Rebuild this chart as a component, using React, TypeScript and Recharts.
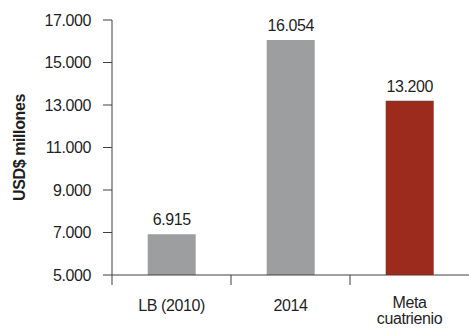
import React from "react";
import { Bar, BarChart, Cell, LabelList, XAxis, YAxis } from "recharts";

const categories = ["LB (2010)", "2014", "Meta\ncuatrienio"];
const values = [6915, 16054, 13200];
const barColors = ["#9d9ea0", "#9d9ea0", "#9c2b1d"];
const yTicks = [5000, 7000, 9000, 11000, 13000, 15000, 17000];

const FONT = "'Liberation Sans', Arial, sans-serif";
const TEXT = "#1f1f1f";
const AXIS = "#404040";
const FS = 16;
const LS = -0.4;

const fmt = (v: number) => String(Math.round(v)).replace(/\B(?=(\d{3})+(?!\d))/g, ".");

const data = categories.map((c, i) => ({ name: c, value: values[i] }));

// category label + tick mark at the left boundary of each band
const CatTick = (props: any) => {
  const { x, y, payload } = props;
  const lines = String(payload.value).split("\n");
  const bx = x - (payload.offset || 0);
  const y0 = lines.length > 1 ? y + 33 : y + 36;
  return (
    <g>
      <line x1={bx} x2={bx} y1={y} y2={y + 10} stroke={AXIS} />
      <text x={x} y={y0} textAnchor="middle" fill={TEXT} fontSize={FS} letterSpacing={LS} fontFamily={FONT}>
        {lines.map((l, i) => (
          <tspan key={i} x={x} dy={i === 0 ? 0 : 15.5}>
            {l}
          </tspan>
        ))}
      </text>
    </g>
  );
};

const YLabel = (props: any) => {
  const vb = props.viewBox || {};
  const cx = 19;
  const cy = vb.y + vb.height / 2;
  return (
    <text
      x={cx}
      y={cy}
      transform={`rotate(-90, ${cx}, ${cy})`}
      textAnchor="middle"
      dominantBaseline="central"
      fontSize={FS}
      fontWeight="bold"
      letterSpacing={LS}
      fontFamily={FONT}
      fill={TEXT}
    >
      USD$ millones
    </text>
  );
};

const App: React.FC = () => {
  return (
    <div style={{ position: "absolute", left: 0, top: 0, background: "#fff" }}>
      <BarChart
        width={469}
        height={330}
        data={data}
        margin={{ top: 20, right: 0, left: 0, bottom: 0 }}
        barCategoryGap="30%"
      >
        <XAxis
          dataKey="name"
          height={55}
          axisLine={{ stroke: AXIS }}
          tickLine={false}
          tickSize={0}
          tickMargin={0}
          tick={<CatTick />}
          interval={0}
        />
        <YAxis
          domain={[5000, 17000]}
          ticks={yTicks}
          width={112}
          axisLine={{ stroke: AXIS }}
          tickLine={{ stroke: AXIS }}
          tickSize={9}
          tickMargin={12}
          tickFormatter={fmt}
          tick={{ fill: TEXT, fontSize: FS, fontFamily: FONT, letterSpacing: LS }}
          interval={0}
          allowDataOverflow
          label={<YLabel />}
        />
        <Bar dataKey="value" isAnimationActive={false}>
          {data.map((d, i) => (
            <Cell key={d.name} fill={barColors[i]} />
          ))}
          <LabelList
            dataKey="value"
            position="top"
            offset={9}
            formatter={(v: any) => fmt(Number(v))}
            fill={TEXT}
            fontSize={FS}
            letterSpacing={LS}
            fontFamily={FONT}
          />
        </Bar>
      </BarChart>
    </div>
  );
};

export default App;
